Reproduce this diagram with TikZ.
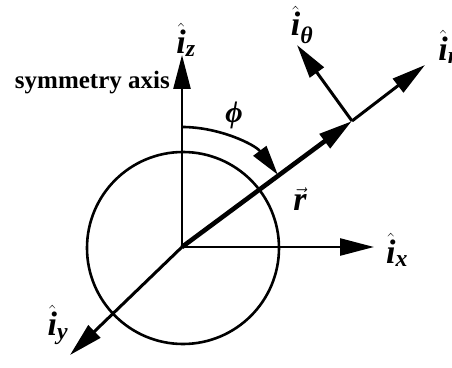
\documentclass[tikz,border=0pt]{standalone}
\usepackage{amsmath}
\usepackage{fontspec}
\setmainfont{Liberation Serif}
\usetikzlibrary{arrows.meta}
\newcommand{\bi}[1]{\textbf{\textit{#1}}}
\newcommand{\unitv}[1]{$\hat{\bi{i}}_{\bi{#1}}$}
\begin{document}
\begin{tikzpicture}[x=1pt,y=1pt,
  thinline/.style={line width=2.6pt},
  bigtip/.style={-{Triangle[length=34pt,width=17pt]}},
  lab/.style={inner sep=0pt,font=\fontsize{34}{38}\selectfont}]
\clip (0,0) rectangle (452,367);
\coordinate (O) at (182,120);
\coordinate (Z) at (182,312);
\coordinate (X) at (374,120);
\coordinate (Y) at (70,12);
\coordinate (R) at (352,246);
\coordinate (IR) at (425,302);
\coordinate (TH) at (297,322);
% circle
\draw[thinline] (183,119) circle[radius=96];
% axes
\draw[thinline,bigtip] (O) -- (Z);
\draw[thinline,bigtip] (O) -- (X);
\draw[line width=3pt,bigtip] (O) -- (Y);
% r vector
\draw[line width=4.6pt,bigtip] (O) -- (R);
\draw[line width=3pt,bigtip] (R) -- (IR);
\draw[line width=3pt,bigtip] (R) -- (TH);
% phi arc
\draw[thinline,-{Triangle[length=30pt,width=16pt]}] (182,240) arc[start angle=90,end angle=37,radius=120];
% labels
\node[lab] (lz) at (186,327) {\unitv{z}};
\node[lab,anchor=east,font=\bfseries\fontsize{25}{28}\selectfont] (lsym) at (170,284) {symmetry axis};
\node[lab,font=\bfseries\itshape\fontsize{30}{34}\selectfont] (lphi) at (234,252) {ϕ};
\node[lab] (lr) at (300,168) {$\vec{\bi{r}}$};
\node[lab] (lx) at (397,117) {\unitv{x}};
\node[lab] (ly) at (58,42) {\unitv{y}};
\node[lab] (lth) at (302,342) {$\hat{\bi{i}}_{\bi{θ}}$};
\node[lab] (lir) at (448,320) {\unitv{r}};
\end{tikzpicture}
\end{document}
